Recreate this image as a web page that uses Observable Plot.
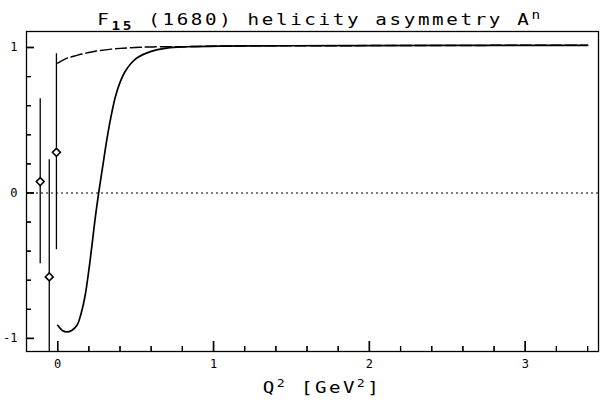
<!DOCTYPE html>
<html>
<head>
<meta charset="utf-8">
<script src="https://cdn.jsdelivr.net/npm/d3@7"></script>
<script src="https://cdn.jsdelivr.net/npm/@observablehq/plot@0.6"></script>
<style>
  body { margin: 0; background: #fff; }
  #chart svg { display: block; }
</style>
</head>
<body>
<div id="chart"></div>
<script>
// Photon-point measurements of A^n (drawn just left of Q² = 0), with error limits;
// the lower limit of the middle point runs down to the bottom of the frame
const pointQ2 = [-0.112, -0.054, -0.008];
const pointA  = [0.078, -0.577, 0.279];
const pointHi = [0.648, 0.229, 0.957];
const pointLo = [-0.486, -1.09, -0.39];

// Model curve (solid)
const solidQ2 = [0.0, 0.03, 0.06, 0.09, 0.124, 0.15, 0.177, 0.20, 0.22, 0.24, 0.263, 0.29, 0.316, 0.345, 0.37, 0.40, 0.43, 0.47, 0.51, 0.595, 0.70, 0.83, 1.04, 1.5, 2.0, 2.5, 3.0, 3.4];
const solidA  = [-0.91, -0.945, -0.955, -0.945, -0.91, -0.83, -0.70, -0.53, -0.36, -0.18, 0.0, 0.19, 0.37, 0.54, 0.66, 0.76, 0.83, 0.89, 0.93, 0.972, 0.996, 1.005, 1.01, 1.012, 1.013, 1.014, 1.015, 1.015];

// Model curve (dashed)
const dashQ2 = [0.0, 0.05, 0.124, 0.2, 0.274, 0.4, 0.5, 0.61, 0.83, 1.04, 1.5, 2.0, 2.5, 3.0, 3.4];
const dashA  = [0.893, 0.922, 0.946, 0.966, 0.98, 0.994, 1.0, 1.004, 1.006, 1.01, 1.012, 1.013, 1.014, 1.015, 1.015];

// Axis ticks and labels
const xMajor = [0, 1, 2, 3];
const xMinor = [0.2, 0.4, 0.6, 0.8, 1.2, 1.4, 1.6, 1.8, 2.2, 2.4, 2.6, 2.8, 3.2, 3.4];
const xTickLabels = ["0", "1", "2", "3"];
const yMajor = [-1, 0, 1];
const yMinor = [-0.8, -0.6, -0.4, -0.2, 0.2, 0.4, 0.6, 0.8];
const yTickLabels = ["-1", "0", "1"];

const titleMain = "F";
const titleSub = "15";
const titleRest = " (1680) helicity asymmetry A";
const titleSup = "n";
const xLabelParts = ["Q", "2", " [GeV", "2", "]"];

const points = pointQ2.map((q, i) => ({q2: q, a: pointA[i], hi: pointHi[i], lo: pointLo[i]}));
const solid = solidQ2.map((q, i) => ({q2: q, a: solidA[i]}));
const dashed = dashQ2.map((q, i) => ({q2: q, a: dashA[i]}));

const font = "'DejaVu Sans Mono', monospace";
const W = 600, H = 404, mL = 26, mR = 2, mT = 31, mB = 53;
const frameW = W - mL - mR, frameH = H - mT - mB;
const xDomain = [-0.2, 3.47];
const yDomain = [-1.09, 1.11];

// pixel lengths of the inward ticks, expressed in data units along each axis
const xPerPx = (xDomain[1] - xDomain[0]) / frameW;
const yPerPx = (yDomain[1] - yDomain[0]) / frameH;
const tickBottom = (len) => yDomain[0] + len * yPerPx;
const tickLeft = (len) => xDomain[0] + len * xPerPx;

const chart = Plot.plot({
  width: W,
  height: H,
  marginLeft: mL,
  marginRight: mR,
  marginTop: mT,
  marginBottom: mB,
  x: {domain: xDomain},
  y: {domain: yDomain},
  style: {fontFamily: font, fontSize: "12px", color: "black", background: "white"},
  marks: [
    // inward ticks along the bottom and left edges of the frame
    Plot.ruleX(xMajor.map(Number), {x: d => d, y1: yDomain[0], y2: tickBottom(10), stroke: "black", strokeWidth: 1.4}),
    Plot.ruleX(xMinor.map(Number), {x: d => d, y1: yDomain[0], y2: tickBottom(5), stroke: "black", strokeWidth: 1.2}),
    Plot.ruleY(yMajor.map(Number), {y: d => d, x1: xDomain[0], x2: tickLeft(8), stroke: "black", strokeWidth: 1.4}),
    Plot.ruleY(yMinor.map(Number), {y: d => d, x1: xDomain[0], x2: tickLeft(5), stroke: "black", strokeWidth: 1.2}),
    Plot.tickX(xMajor.map(Number), {x: d => d, insetTop: frameH - 10, stroke: "black", strokeWidth: 1.4}),
    Plot.tickX(xMinor.map(Number), {x: d => d, insetTop: frameH - 5, stroke: "black", strokeWidth: 1.2}),
    Plot.tickY(yMajor.map(Number), {y: d => d, insetRight: frameW - 8, stroke: "black", strokeWidth: 1.4}),
    Plot.tickY(yMinor.map(Number), {y: d => d, insetRight: frameW - 5, stroke: "black", strokeWidth: 1.2}),
    Plot.axisX({ticks: xMajor, tickSize: 0, tickPadding: 8, fontSize: 12, tickFormat: d => xTickLabels[xMajor.indexOf(d)], label: null}),
    Plot.axisY({ticks: yMajor, tickSize: 0, tickPadding: 9, fontSize: 12, tickFormat: d => yTickLabels[yMajor.indexOf(d)], label: null}),
    Plot.ruleY([0], {strokeDasharray: "2,3", strokeWidth: 1.1}),
    Plot.line(dashed, {x: "q2", y: "a", curve: "catmull-rom", strokeWidth: 1.5, strokeDasharray: "11,4"}),
    Plot.line(solid, {x: "q2", y: "a", curve: "catmull-rom", strokeWidth: 1.7}),
    Plot.ruleX(points, {x: "q2", y1: "lo", y2: "hi", strokeWidth: 1.3}),
    Plot.dot(points, {x: "q2", y: "a", symbol: "diamond2", r: 3.6, fill: "white", stroke: "black", strokeWidth: 1.5}),
    Plot.frame({strokeWidth: 1.3})
  ]
});

const svg = d3.select(chart);

// Title with subscript and superscript
const t = svg.append("text")
  .attr("transform", "translate(320,25) scale(1.2,1)")
  .attr("text-anchor", "middle")
  .attr("font-family", font)
  .attr("font-size", 16)
  .attr("letter-spacing", "2.2px")
  .attr("fill", "black");
t.append("tspan").text(titleMain);
t.append("tspan").attr("font-size", 12).attr("font-weight", "bold").attr("dy", 5).text(titleSub);
t.append("tspan").attr("dy", -5).text(titleRest);
t.append("tspan").attr("font-size", 12).attr("dy", -6).text(titleSup);

// x-axis title with superscripts
const xl = svg.append("text")
  .attr("transform", "translate(322,393) scale(1.2,1)")
  .attr("text-anchor", "middle")
  .attr("font-family", font)
  .attr("font-size", 16)
  .attr("letter-spacing", "2px")
  .attr("fill", "black");
xl.append("tspan").text(xLabelParts[0]);
xl.append("tspan").attr("font-size", 11).attr("dy", -6).text(xLabelParts[1]);
xl.append("tspan").attr("dy", 6).text(xLabelParts[2]);
xl.append("tspan").attr("font-size", 11).attr("dy", -6).text(xLabelParts[3]);
xl.append("tspan").attr("dy", 6).text(xLabelParts[4]);

document.getElementById("chart").append(chart);
</script>
</body>
</html>
